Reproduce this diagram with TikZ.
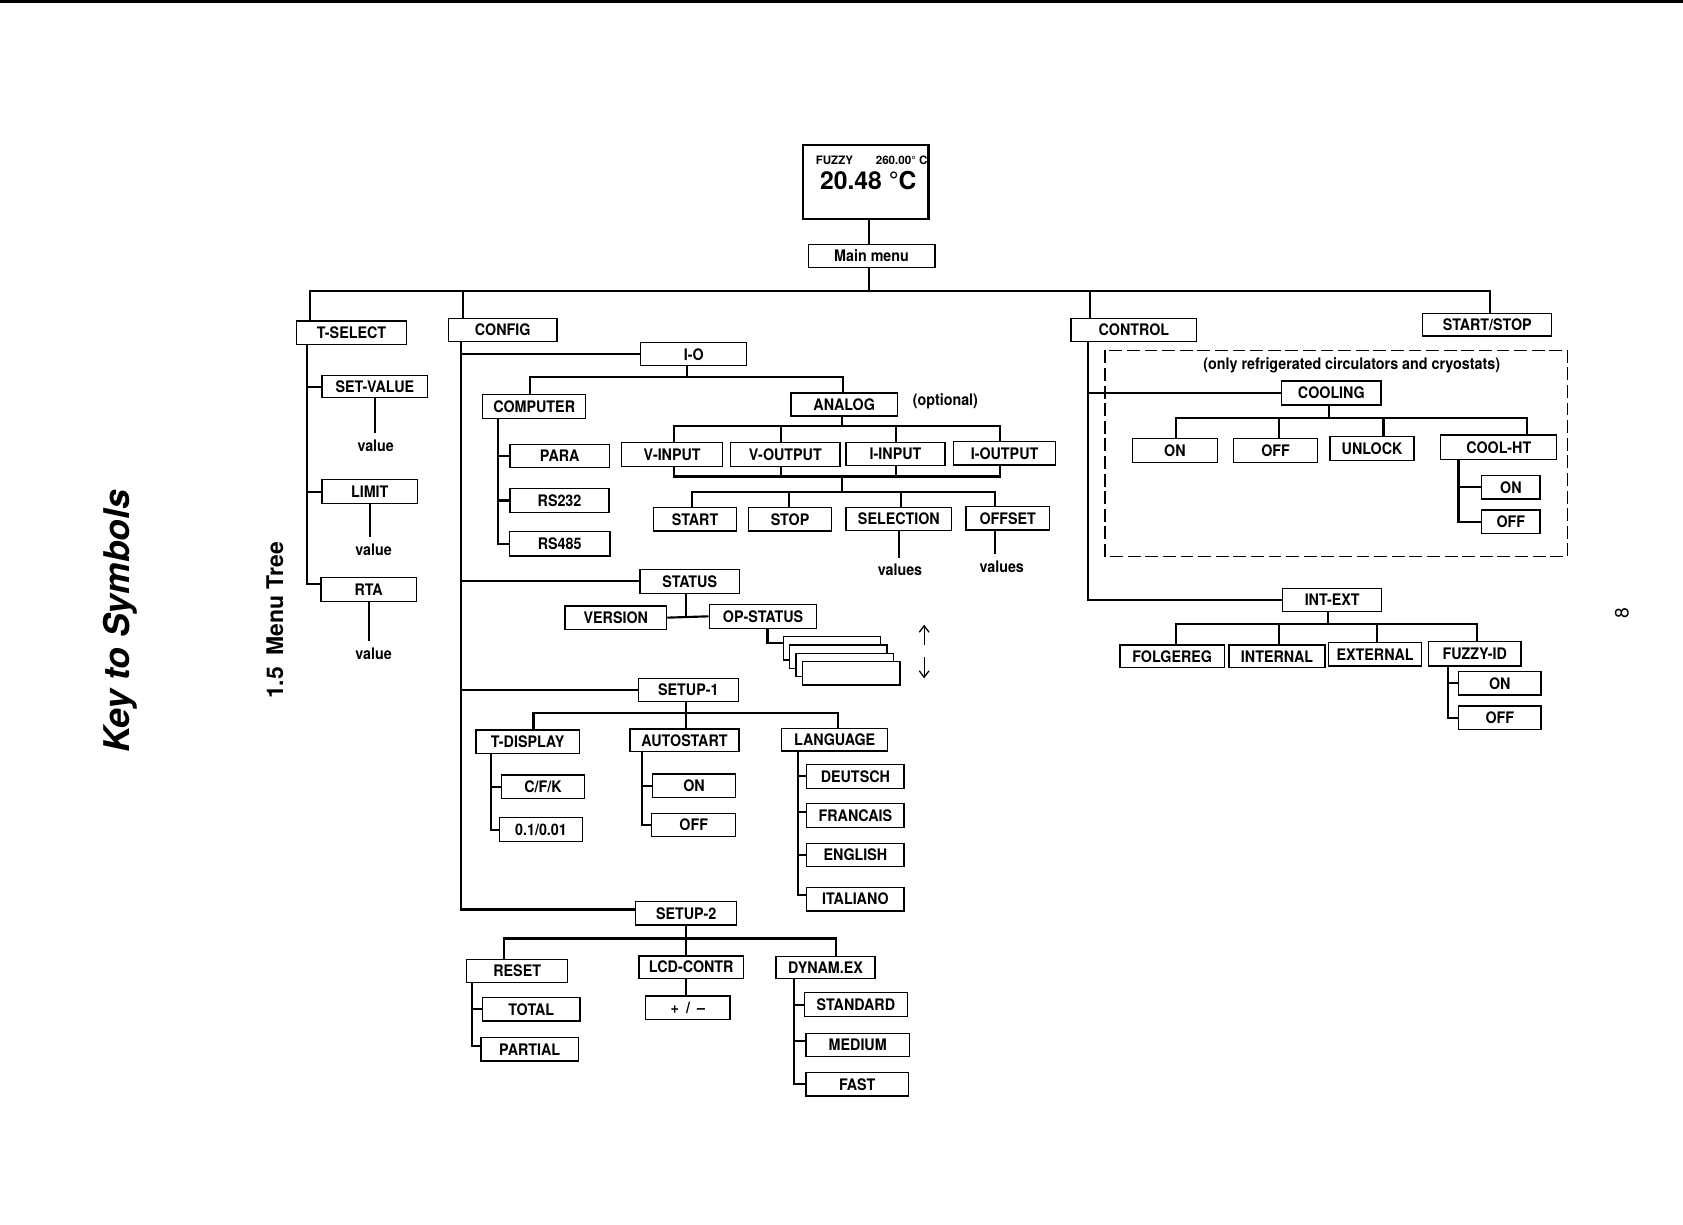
\documentclass[tikz,border=0pt]{standalone}
\usepackage{fontspec}
\setmainfont{TeX Gyre Heros}
\newfontfamily\bxf[FakeStretch=0.9]{TeX Gyre Heros}
\usetikzlibrary{arrows.meta}
\newcommand\bxfont{\bxf\bfseries\fontsize{7.4}{8}\selectfont}
\newcommand\Bx[7][]{%
  \pgfmathsetmacro\bxw{((#5)-(#3))*0.5}%
  \pgfmathsetmacro\bxh{((#6)-(#4))*0.5}%
  \node[bx,#1,minimum width=\bxw pt,minimum height=\bxh pt] (#2) at ({((#3)+(#5))/2},{((#4)+(#6))/2}) {#7};}
\tikzset{
  bx/.style={draw,line width=0.65pt,fill=white,inner sep=0pt,font=\bxfont},
  conn/.style={line width=1pt},
  lbl/.style={inner sep=0pt,font=\bxfont},
  vlbl/.style={inner sep=0pt,outer sep=3pt,font=\bxfont},
  arr/.style={line width=0.6pt,-{Straight Barb[length=3pt,width=4.5pt]}},
  dashbox/.style={line width=0.8pt,dash pattern=on 6pt off 2.2pt}
}
\begin{document}
\begin{tikzpicture}[x=0.5pt,y=-0.5pt]
\useasboundingbox (0,0) rectangle (1568,1141);
\fill (0,0) rectangle (1568,2.8);

% titles
\node[rotate=90,inner sep=0pt,font=\bfseries\itshape\fontsize{16.5}{18}\selectfont] (title) at (112,579) {Key to Symbols};
\node[rotate=90,inner sep=0pt,font=\bfseries\fontsize{10.7}{12}\selectfont] (sect) at (256,578) {1.5\hspace{0.5em}Menu Tree};
\node[rotate=90,inner sep=0pt,font=\fontsize{9}{10}\selectfont] (pg) at (1511,571) {8};

% display + main menu
\Bx[line width=1pt]{disp}{748}{135}{865}{204}{}
\node[inner sep=0pt,font=\bfseries\fontsize{5.4}{6}\selectfont] (fz) at (777.4,149) {FUZZY};
\node[inner sep=0pt,anchor=east,font=\bfseries\fontsize{5.4}{6}\selectfont] (spt) at (864.5,149) {260.00° C};
\node[inner sep=0pt,font=\bfseries\fontsize{11.5}{13}\selectfont] (temp) at (809,168.6) {20.48 °C};
\Bx{mm}{753}{228}{871}{249}{Main menu}
\coordinate (mx) at (810,271.5);
\draw[conn] (mx |- disp.south) -- (mx |- mm.north);
\draw[conn] (mx |- mm.south) -- (mx);

% first level
\Bx{tsel}{276}{299}{379}{321}{T-SELECT}
\Bx{config}{417.7}{296.6}{519}{318.3}{CONFIG}
\Bx{control}{997.8}{296.6}{1115}{318.3}{CONTROL}
\Bx{ss}{1325.5}{291.9}{1445.7}{313}{START/STOP}
\coordinate (bts) at (289,271.5);
\coordinate (bcf) at (431,271.5);
\coordinate (bct) at (1015.6,271.5);
\coordinate (bss) at (1388.2,271.5);
\draw[conn] (bts |- tsel.north) -- (bts) -- (bss) -- (bss |- ss.north);
\draw[conn] (bcf) -- (bcf |- config.north);
\draw[conn] (bct) -- (bct |- control.north);

% T-SELECT
\Bx{setv}{300}{350}{398.5}{370.5}{SET-VALUE}
\Bx{limit}{300}{447}{389}{469}{LIMIT}
\Bx{rta}{299}{538}{388}{560.6}{RTA}
\coordinate (tst) at (286,0);
\draw[conn] (tst |- tsel.south) |- (setv.west);
\draw[conn] (tst |- tsel.south) |- (limit.west);
\draw[conn] (tst |- tsel.south) |- ([yshift=2.6pt]rta.west);
\node[vlbl] (v1) at (350,415) {value};
\node[vlbl] (v2) at (348,512) {value};
\node[vlbl] (v3) at (348,608.7) {value};
\draw[conn] (setv.south) -- (setv.south |- v1.north);
\draw[conn] (limit.south) -- (limit.south |- v2.north);
\draw[conn] (rta.south) -- (rta.south |- v3.north);

% CONFIG
\Bx{io}{597}{319.3}{695.7}{340.7}{I-O}
\Bx{status}{596.3}{530.4}{688.8}{552.8}{STATUS}
\Bx{setup1}{594.7}{632}{687.9}{653.8}{SETUP-1}
\Bx{setup2}{592.3}{840.1}{686.4}{861.8}{SETUP-2}
\coordinate (cft) at (429.5,0);
\draw[conn] (cft |- config.south) |- (io.west);
\draw[conn] (cft |- config.south) |- (status.west);
\draw[conn] (cft |- config.south) |- (setup1.west);
\draw[conn] (cft |- config.south) |- ([yshift=1.8pt]setup2.west);

% I-O
\Bx{comp}{449.7}{367.4}{545.7}{389.8}{COMPUTER}
\Bx{analog}{737}{366}{836}{387.5}{ANALOG}
\coordinate (iod) at (639.8,350.9);
\coordinate (iob1) at (493.8,350.9);
\coordinate (iob2) at (785.1,350.9);
\draw[conn] (iod |- io.south) -- (iod);
\draw[conn] (iob1 |- comp.north) -- (iob1) -- (iob2) -- (iob2 |- analog.north);
\node[lbl] (opt) at (880.8,374.2) {(optional)};

\Bx{para}{475.2}{414}{567.7}{435.7}{PARA}
\Bx{rsa}{475.2}{455}{567.4}{477.7}{RS232}
\Bx{rsb}{474.5}{495.4}{568.3}{518}{RS485}
\coordinate (cpt) at (463.7,0);
\draw[conn] (cpt |- comp.south) |- (para.west);
\draw[conn] (cpt |- comp.south) |- (rsa.west);
\draw[conn] (cpt |- comp.south) |- (rsb.west);

\Bx{vin}{579.2}{412.4}{673.3}{434.8}{V-INPUT}
\Bx{vout}{680.8}{412.3}{782.6}{434.8}{V-OUTPUT}
\Bx{iin}{788.2}{412.1}{880.5}{433.9}{I-INPUT}
\Bx{iout}{888.2}{411.5}{983.6}{433.2}{I-OUTPUT}
\coordinate (anl) at (784.8,397);
\coordinate (ab1) at (628.3,397);
\coordinate (ab2) at (727.7,397);
\coordinate (ab3) at (834.8,397);
\coordinate (ab4) at (932,397);
\draw[conn] (anl |- analog.south) -- (anl);
\draw[conn] (ab1 |- vin.north) -- (ab1) -- (ab4) -- (ab4 |- iout.north);
\draw[conn] (ab2) -- (ab2 |- vout.north);
\draw[conn] (ab3) -- (ab3 |- iin.north);
\coordinate (bb1) at (628.3,444);
\coordinate (bb2) at (727.7,444);
\coordinate (bb3) at (834.8,444);
\coordinate (bb4) at (932,444);
\coordinate (bbm) at (784.8,444);
\coordinate (sbm) at (784.8,458.5);
\draw[conn] (bb1 |- vin.south) -- (bb1) -- (bb4) -- (bb4 |- iout.south);
\draw[conn] (bb2 |- vout.south) -- (bb2);
\draw[conn] (bb3 |- iin.south) -- (bb3);
\draw[conn] (bbm) -- (sbm);

\Bx{start}{608.7}{473}{686.4}{494.7}{START}
\Bx{stop}{697.2}{473}{774.9}{494.7}{STOP}
\Bx{sel}{788.2}{473}{886.7}{494.4}{SELECTION}
\Bx{offs}{900}{472.1}{977.7}{493.8}{OFFSET}
\coordinate (sb1) at (644.4,458.5);
\coordinate (sb2) at (735.3,458.5);
\coordinate (sb3) at (839.2,458.5);
\coordinate (sb4) at (927,458.5);
\draw[conn] (sb1 |- start.north) -- (sb1) -- (sb4) -- (sb4 |- offs.north);
\draw[conn] (sb2) -- (sb2 |- stop.north);
\draw[conn] (sb3) -- (sb3 |- sel.north);
\node[vlbl] (v4) at (838.5,531) {values};
\node[vlbl] (v5) at (933.3,528) {values};
\draw[conn] (sel.south) -- (sel.south |- v4.north);
\draw[conn] (sb4 |- offs.south) -- (sb4 |- v5.north);

% STATUS
\Bx{version}{526.4}{564.6}{621}{586.3}{VERSION}
\Bx{opst}{660.9}{563}{760.9}{585.4}{OP-STATUS}
\coordinate (stj) at (638.9,574.5);
\draw[conn] (stj |- status.south) -- (stj);
\draw[conn] (version.east) -- (opst.west);
\Bx{stka}{729.8}{593.2}{820.6}{615}{}
\Bx{stkb}{735.4}{601}{826.2}{623}{}
\Bx{stkc}{741.6}{608.7}{832.3}{630.5}{}
\Bx{stkd}{747.9}{616.5}{838.6}{638.2}{}
\coordinate (opd) at (715,599.4);
\draw[conn] (opd |- opst.south) -- (opd) -- (opd -| stka.west);
\coordinate (aua) at (861,601);
\coordinate (aub) at (861,582);
\coordinate (ada) at (861,612);
\coordinate (adb) at (861,632);
\draw[arr] (aua) -- (aub);
\draw[arr] (ada) -- (adb);

% SETUP-1
\Bx{tdisp}{443.5}{680}{539.8}{701.9}{T-DISPLAY}
\Bx{autost}{587}{679.2}{688.5}{700.3}{AUTOSTART}
\Bx{lang}{728.3}{678.6}{827}{699.7}{LANGUAGE}
\coordinate (s1d) at (639.2,664);
\coordinate (s1a) at (497,664);
\coordinate (s1c) at (781,664);
\draw[conn] (s1d |- setup1.south) -- (s1d |- autost.north);
\draw[conn] (s1a |- tdisp.north) -- (s1a) -- (s1c) -- (s1c |- lang.north);
\Bx{cfk}{467.4}{722}{544.4}{743.8}{C/F/K}
\Bx{dec}{465.2}{761.8}{542.9}{784.2}{0.1/0.01}
\coordinate (tdt) at (457.5,0);
\draw[conn] (tdt |- tdisp.south) |- (cfk.west);
\draw[conn] (tdt |- tdisp.south) |- (dec.west);
\Bx{aon}{607.8}{721.2}{685.4}{742.9}{ON}
\Bx{aoff}{607.2}{757.8}{685.4}{779.5}{OFF}
\coordinate (ast) at (598.5,0);
\draw[conn] (ast |- autost.south) |- (aon.west);
\draw[conn] (ast |- autost.south) |- (aoff.west);
\Bx{deu}{751.6}{712.1}{842.3}{734.5}{DEUTSCH}
\Bx{fra}{751.6}{748.5}{842.3}{770.8}{FRANCAIS}
\Bx{eng}{751.6}{785.7}{842.3}{807.5}{ENGLISH}
\Bx{ita}{751.6}{826.7}{842.3}{848.8}{ITALIANO}
\coordinate (lgt) at (743.2,0);
\draw[conn] (lgt |- lang.south) |- (deu.west);
\draw[conn] (lgt |- lang.south) |- ([yshift=1.5pt]fra.west);
\draw[conn] (lgt |- lang.south) |- (eng.west);
\draw[conn] (lgt |- lang.south) |- ([yshift=2pt]ita.west);

% SETUP-2
\Bx{reset}{434.8}{893.8}{528.9}{915.2}{RESET}
\Bx{lcd}{595.4}{890.7}{692.6}{911.5}{LCD-CONTR}
\Bx{dyn}{723}{891.4}{815.2}{911.5}{DYNAM.EX}
\coordinate (s2d) at (639.2,874.3);
\coordinate (s2a) at (469.9,874.3);
\coordinate (s2c) at (778.9,874.3);
\draw[conn] (s2d |- setup2.south) -- (s2d |- lcd.north);
\draw[conn] (s2a |- reset.north) -- (s2a) -- (s2c) -- (s2c |- dyn.north);
\Bx{pm}{601.6}{928}{680.2}{949.7}{+\hspace{0.45em}/\hspace{0.45em}–}
\draw[conn] (s2d |- lcd.south) -- (s2d |- pm.north);
\Bx{total}{449.4}{929.5}{540.4}{951.3}{TOTAL}
\Bx{partial}{448.2}{966.8}{538.8}{988.5}{PARTIAL}
\coordinate (rst) at (439.5,0);
\draw[conn] (rst |- reset.south) |- (total.west);
\draw[conn] (rst |- reset.south) |- ([yshift=1.5pt]partial.west);
\Bx{stdd}{749.4}{924.9}{845.4}{947.2}{STANDARD}
\Bx{med}{751}{962.7}{847.2}{984.5}{MEDIUM}
\Bx{fast}{751}{999.4}{846.3}{1021.2}{FAST}
\coordinate (dyt) at (740.1,0);
\draw[conn] (dyt |- dyn.south) |- (stdd.west);
\draw[conn] (dyt |- dyn.south) |- ([yshift=2pt]med.west);
\draw[conn] (dyt |- dyn.south) |- (fast.west);

% CONTROL
\draw[dashbox] (1029.5,326.5) rectangle (1460.5,518.5);
\node[lbl] (note) at (1259.4,340.1) {(only refrigerated circulators and cryostats)};
\Bx{cool}{1194.1}{355}{1286.7}{377.3}{COOLING}
\Bx{intext}{1195}{548.2}{1287.3}{569.9}{INT-EXT}
\coordinate (ctt) at (1013.5,0);
\draw[conn] (ctt |- control.south) |- (cool.west);
\draw[conn] (ctt |- control.south) |- (intext.west);
\Bx{con}{1055}{408.4}{1134.2}{430.7}{ON}
\Bx{coff}{1149.1}{408.4}{1227.7}{430.7}{OFF}
\Bx{unlock}{1239.2}{406.9}{1317.4}{429.2}{UNLOCK}
\Bx{coolht}{1342.3}{405.3}{1450.4}{428}{COOL-HT}
\coordinate (cd) at (1238.5,389.1);
\coordinate (cba) at (1095.4,389.1);
\coordinate (cbb) at (1191.7,389.1);
\coordinate (cbc) at (1288.9,389.1);
\coordinate (cbd) at (1422.4,389.1);
\draw[conn] (cd |- cool.south) -- (cd);
\draw[conn] (cba |- con.north) -- (cba) -- (cbd) -- (cbd |- coolht.north);
\draw[conn] (cbb) -- (cbb |- coff.north);
\draw[conn] (cbc) -- (cbc |- unlock.north);
\Bx{hon}{1380.5}{443.2}{1434.8}{464.9}{ON}
\Bx{hoff}{1380.5}{475.2}{1434.8}{496.9}{OFF}
\coordinate (cht) at (1358.8,0);
\draw[conn] (cht |- coolht.south) |- (hon.west);
\draw[conn] (cht |- coolht.south) |- (hoff.west);

\Bx{folg}{1043.5}{601}{1140.7}{622.1}{FOLGEREG}
\Bx{intl}{1145.1}{601}{1234.5}{622}{INTERNAL}
\Bx{extl}{1237.6}{598.8}{1324.6}{620.5}{EXTERNAL}
\Bx{fuzzy}{1330.8}{597.9}{1417.1}{620.5}{FUZZY-ID}
\coordinate (ied) at (1237.6,581.4);
\coordinate (iea) at (1095.7,581.4);
\coordinate (ieb) at (1191.7,581.4);
\coordinate (iec) at (1282.7,581.4);
\coordinate (iee) at (1376.4,581.4);
\draw[conn] (ied |- intext.south) -- (ied);
\draw[conn] (iea |- folg.north) -- (iea) -- (iee) -- (iee |- fuzzy.north);
\draw[conn] (ieb) -- (ieb |- intl.north);
\draw[conn] (iec) -- (iec |- extl.north);
\Bx{fon}{1358.8}{625.8}{1435.8}{647.5}{ON}
\Bx{foff}{1358.8}{657.8}{1435.8}{679.5}{OFF}
\coordinate (fzt) at (1349.4,0);
\draw[conn] (fzt |- fuzzy.south) |- (fon.west);
\draw[conn] (fzt |- fuzzy.south) |- (foff.west);
\end{tikzpicture}
\end{document}
